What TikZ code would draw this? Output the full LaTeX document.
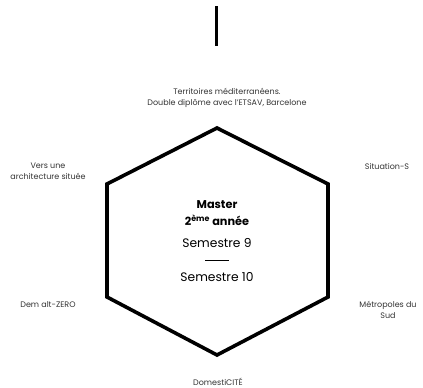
\documentclass[tikz,border=0pt]{standalone}
\usepackage{fontspec}
\setmainfont{Poppins}
\begin{document}
\begin{tikzpicture}[x=1pt, y=-1pt,
  atelier/.style={text=black!80, font=\fontsize{8}{11}\selectfont, align=center, inner sep=0pt},
  sem/.style={font=\fontsize{12.3}{14}\selectfont, inner sep=0pt}]
\useasboundingbox (0,0) rectangle (423,388);

\draw[line width=3pt] (216,6)--(216,46);

\draw[line width=3.6pt, line join=miter]
  (217,128)--(328,184)--(328,297)--(217,355)--(107,297)--(107,184)--cycle;

\node[atelier] (terr) at (227,98) {Territoires méditerranéens.\\Double diplôme avec l’ETSAV, Barcelone};
\node[atelier] (vers) at (48,171) {Vers une\\architecture située};
\node[atelier] (situ) at (387,166) {Situation-S};
\node[atelier] (dem) at (48,305) {Dem alt-ZERO};
\node[atelier] (metro) at (388,310) {Métropoles du\\Sud};
\node[atelier] (domes) at (218,382) {DomestiCITÉ};

\node[font=\fontsize{11.3}{17}\selectfont\bfseries, align=center, inner sep=0pt] (master) at (217,213)
  {Master\\2\textsuperscript{ème} année};
\node[sem] (s9) at (217,243) {Semestre 9};
\draw[line width=0.9pt] (205,260)--(229,260);
\node[sem] (s10) at (217,277) {Semestre 10};
\end{tikzpicture}
\end{document}
